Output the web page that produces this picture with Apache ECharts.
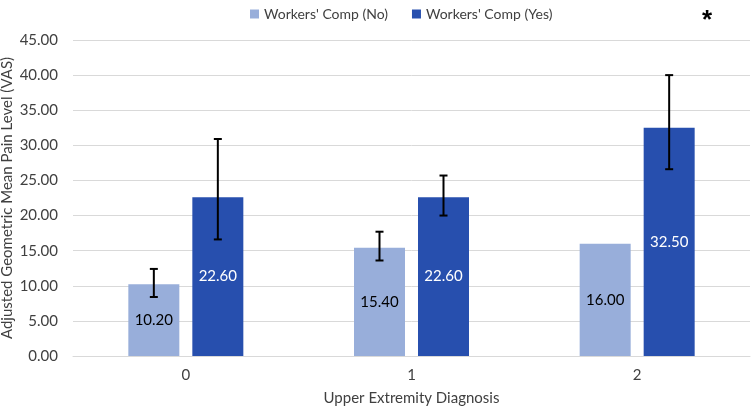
<!DOCTYPE html>
<html lang="en">
<head>
    <meta charset="UTF-8">
    <title>Adjusted Geometric Mean Pain Level</title>
    <style>
        body { margin: 0; background: #fff; }
        #container { width: 751px; height: 410px; }
    </style>
    <script src="https://cdn.jsdelivr.net/npm/echarts@6/dist/echarts.min.js"></script>
</head>
<body>
    <div id="container"></div>
    <script>
        // data
        var categories = ['0', '1', '2'];
        var seriesNames = ["Workers' Comp (No)", "Workers' Comp (Yes)"];
        var noComp = [10.2, 15.4, 16.0];
        var yesComp = [22.6, 22.6, 32.5];
        // error bar ends (low, high); null = no bar
        var noLow = [8.4, 13.6, null];
        var noHigh = [12.4, 17.7, null];
        var yesLow = [16.6, 20.0, 26.6];
        var yesHigh = [30.9, 25.7, 40.0];
        var yTicks = [0, 5, 10, 15, 20, 25, 30, 35, 40, 45];

        var colNo = '#98AEDA';
        var colYes = '#274FAE';
        var barWidth = 51;
        var barGapPx = 13;
        var font = "Lato, 'Open Sans', sans-serif";

        function errData(low, high) {
            var out = [];
            for (var i = 0; i < categories.length; i++) {
                if (low[i] != null) out.push([i, low[i], high[i]]);
            }
            return out;
        }

        function errRender(offset) {
            return function (params, api) {
                var x = api.value(0);
                var lo = api.coord([x, api.value(1)]);
                var hi = api.coord([x, api.value(2)]);
                var cx = lo[0] + offset;
                var cap = 4;
                var st = { stroke: '#000', lineWidth: 2 };
                return {
                    type: 'group',
                    children: [
                        { type: 'line', shape: { x1: cx, y1: lo[1], x2: cx, y2: hi[1] }, style: st },
                        { type: 'line', shape: { x1: cx - cap, y1: lo[1], x2: cx + cap, y2: lo[1] }, style: st },
                        { type: 'line', shape: { x1: cx - cap, y1: hi[1], x2: cx + cap, y2: hi[1] }, style: st }
                    ]
                };
            };
        }

        var off = (barWidth + barGapPx) / 2;
        var chart = echarts.init(document.getElementById('container'));

        chart.setOption({
            backgroundColor: '#fff',
            animation: false,
            textStyle: { fontFamily: font },
            legend: {
                data: seriesNames,
                top: 2,
                left: 245,
                itemWidth: 9,
                itemHeight: 9,
                itemGap: 24,
                icon: 'rect',
                textStyle: { color: '#404040', fontSize: 14, fontFamily: font }
            },
            graphic: [{
                type: 'text',
                left: 702,
                top: 8,
                style: { text: '*', fill: '#000', font: 'bold 26px sans-serif' }
            }],
            grid: { left: 73, right: 1, top: 40, bottom: 54, outerBoundsMode: 'none', containLabel: false },
            xAxis: {
                type: 'category',
                data: categories,
                name: 'Upper Extremity Diagnosis',
                nameLocation: 'middle',
                nameGap: 35,
                nameMoveOverlap: false,
                nameTextStyle: { color: '#404040', fontSize: 15, fontFamily: font },
                axisLine: { lineStyle: { color: '#d9d9d9', width: 1 } },
                axisTick: { show: false },
                axisLabel: { color: '#404040', fontSize: 15, margin: 12, fontFamily: font }
            },
            yAxis: {
                type: 'value',
                min: yTicks[0],
                max: yTicks[yTicks.length - 1],
                interval: 5,
                name: 'Adjusted Geometric Mean Pain Level (VAS)',
                nameLocation: 'middle',
                nameRotate: 90,
                nameGap: 58,
                nameMoveOverlap: false,
                nameTextStyle: { color: '#404040', fontSize: 15, fontFamily: font },
                axisLine: { show: false },
                axisTick: { show: false },
                axisLabel: {
                    color: '#404040',
                    fontSize: 15,
                    margin: 15,
                    fontFamily: font,
                    formatter: function (v) { return v.toFixed(2); }
                },
                splitLine: { lineStyle: { color: '#d9d9d9', width: 1 } }
            },
            series: [
                {
                    name: seriesNames[0],
                    type: 'bar',
                    data: noComp,
                    barWidth: barWidth,
                    barGap: (barGapPx / barWidth * 100) + '%',
                    itemStyle: { color: colNo },
                    label: {
                        show: true,
                        position: 'inside',
                        color: '#000',
                        fontSize: 15,
                        fontFamily: font,
                        formatter: function (p) { return p.value.toFixed(2); }
                    }
                },
                {
                    name: seriesNames[1],
                    type: 'bar',
                    data: yesComp,
                    barWidth: barWidth,
                    itemStyle: { color: colYes },
                    label: {
                        show: true,
                        position: 'inside',
                        color: '#fff',
                        fontSize: 15,
                        fontFamily: font,
                        formatter: function (p) { return p.value.toFixed(2); }
                    }
                },
                {
                    type: 'custom',
                    name: 'errNo',
                    renderItem: errRender(-off),
                    data: errData(noLow, noHigh),
                    z: 10,
                    silent: true
                },
                {
                    type: 'custom',
                    name: 'errYes',
                    renderItem: errRender(off),
                    data: errData(yesLow, yesHigh),
                    z: 10,
                    silent: true
                }
            ]
        });
    </script>
</body>
</html>
